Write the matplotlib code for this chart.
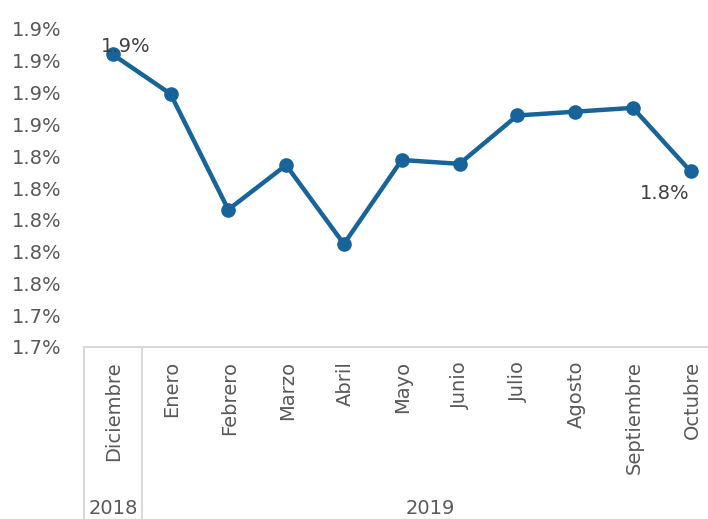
import matplotlib.pyplot as plt
import numpy as np

# datos
meses = ["Diciembre", "Enero", "Febrero", "Marzo", "Abril", "Mayo", "Junio",
         "Julio", "Agosto", "Septiembre", "Octubre"]
anios = ["2018", "2019"]
valores = [1.930, 1.899, 1.808, 1.843, 1.781, 1.847, 1.844,
           1.882, 1.885, 1.888, 1.838]
yticks = [1.700, 1.725, 1.750, 1.775, 1.800, 1.825, 1.850,
          1.875, 1.900, 1.925, 1.950]
ylabels = ["1.7%", "1.7%", "1.8%", "1.8%", "1.8%", "1.8%", "1.8%",
           "1.9%", "1.9%", "1.9%", "1.9%"]
etiquetas = ["1.9%", "1.8%"]

azul = "#17649a"
gris = "#595959"
linea = "#d9d9d9"
fs = 14

plt.rcParams["font.family"] = "DejaVu Sans"

fig = plt.figure(figsize=(7.08, 5.19), dpi=100)
W, H = 708., 519.
# area de trazado en pixeles (se sale un poco por la derecha)
x0, x1 = 83.8, 719.6
y_bot, y_top = 347., 29.
ax = fig.add_axes([x0 / W, 1 - y_bot / H, (x1 - x0) / W, (y_bot - y_top) / H])

x = np.arange(len(meses))
ax.plot(x, valores, color=azul, linewidth=3.2, marker="o", markersize=9.5,
        solid_joinstyle="round", clip_on=False)

ax.set_xlim(-0.5, len(meses) - 0.5)
ax.set_ylim(yticks[0], yticks[-1])
ax.set_yticks(yticks)
ax.set_yticklabels(ylabels, fontsize=fs, color=gris)
ax.tick_params(axis="y", length=0, pad=16)
ax.set_xticks([])

for s in ["top", "right", "left"]:
    ax.spines[s].set_visible(False)
ax.spines["bottom"].set_color(linea)
ax.spines["bottom"].set_linewidth(1.5)

# etiquetas de datos
ax.annotate(etiquetas[0], (x[0], valores[0]), xytext=(9, 6),
            textcoords="offset points", ha="center", va="center",
            fontsize=fs, color="#404040")
ax.annotate(etiquetas[1], (x[-1], valores[-1]), xytext=(-19, -16),
            textcoords="offset points", ha="center", va="center",
            fontsize=fs, color="#404040")

# eje de categorias de dos niveles
trans = ax.get_xaxis_transform()
for i, m in enumerate(meses):
    fig.text(ax.transData.transform((x[i], 0))[0] / W + 0.002, 1 - 361 / H, m,
             rotation=90, ha="center", va="top", fontsize=fs, color=gris)

for xv in [-0.5, 0.5]:
    ax.plot([xv, xv], [0, -172 / (y_bot - y_top)], transform=trans,
            color=linea, linewidth=1.5, clip_on=False)

yr_y = 1 - 508 / H
fig.text((x0 + 142) / 2 / W, yr_y, anios[0], ha="center", va="center",
         fontsize=fs, color=gris)
fig.text((142 + x1) / 2 / W, yr_y, anios[1], ha="center", va="center",
         fontsize=fs, color=gris)

fig.savefig("out.png", dpi=100)
